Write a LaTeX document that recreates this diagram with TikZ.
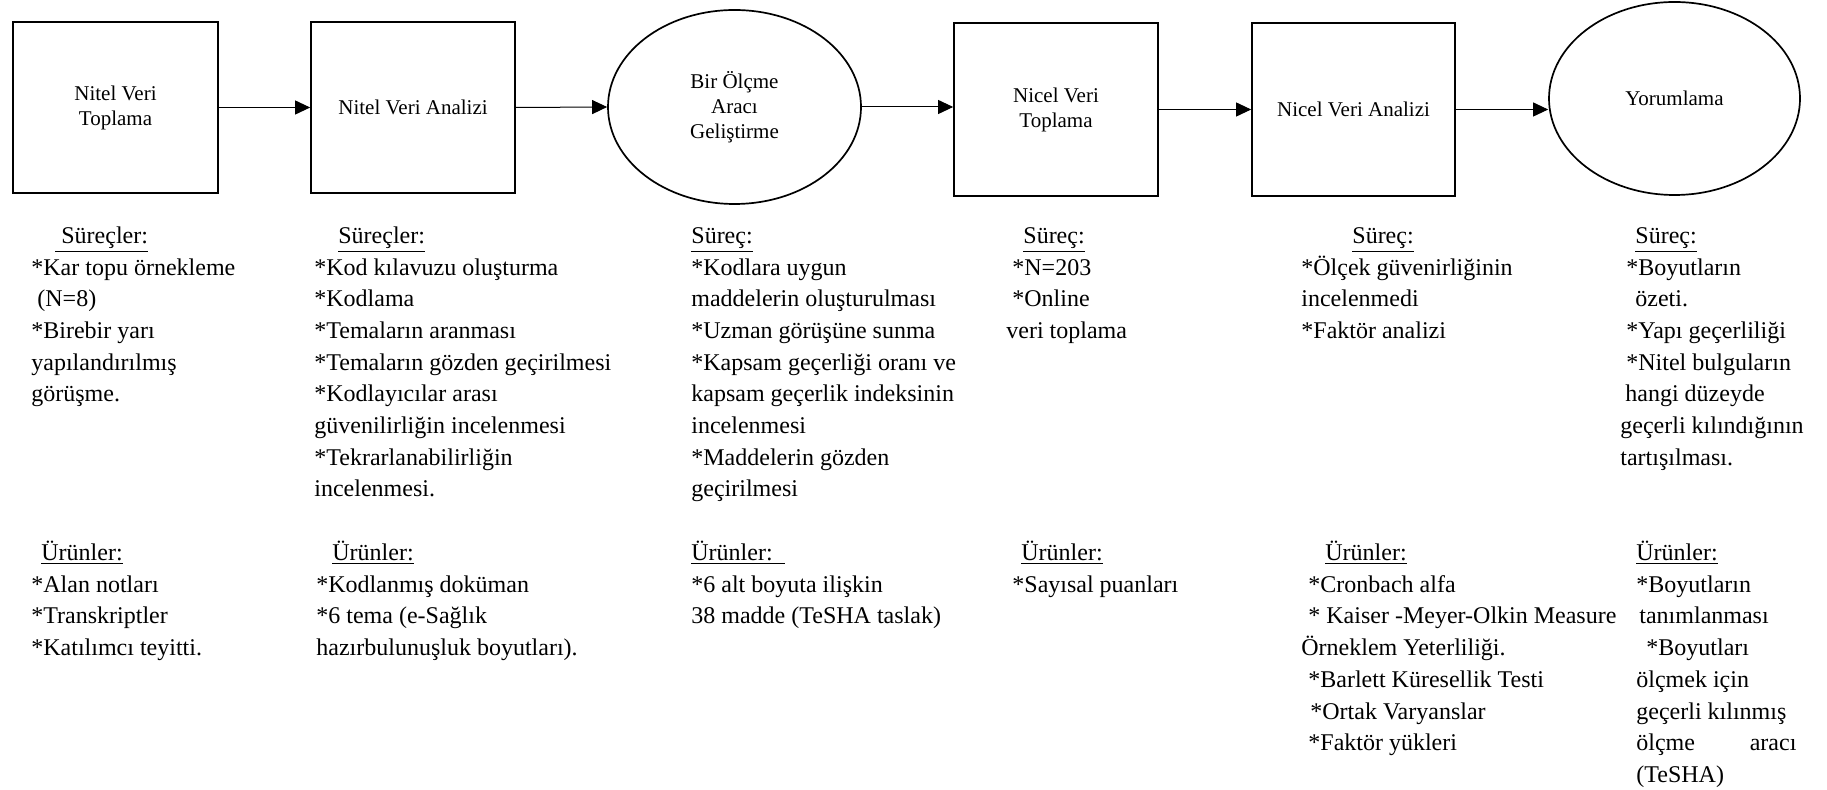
\documentclass[tikz,border=0pt]{standalone}
\usepackage{fontspec}
\setmainfont{Liberation Serif}
\usetikzlibrary{shapes.geometric,arrows.meta}
\newcommand{\Hs}[1]{\hspace*{#1}}
\tikzset{
  box/.style={draw, line width=0.85pt, rectangle, inner sep=0pt, align=center,
    font=\fontsize{10.5}{12.5}\selectfont},
  oval/.style={draw, line width=0.85pt, ellipse, inner sep=0pt, align=center,
    font=\fontsize{10.5}{12.5}\selectfont},
  arr/.style={-{Triangle[length=7.5pt,width=7pt]}, line width=0.5pt},
  txt/.style={anchor=north west, inner sep=0pt, align=left,
    font=\fontsize{12}{15.85}\selectfont},
}
\begin{document}
\begin{tikzpicture}[x=0.5pt,y=-0.5pt]
\useasboundingbox (0,0) rectangle (1827,790);
% main shapes
\node[box, minimum width=102.5pt, minimum height=85.5pt] (b1) at (115.5,107.5) {Nitel Veri\\Toplama};
\node[box, minimum width=102pt, minimum height=85.5pt] (b2) at (413,107.5) {Nitel Veri Analizi};
\node[oval, minimum width=126.5pt, minimum height=97pt] (e3) at (734.5,107) {Bir Ölçme\\Aracı\\Geliştirme};
\node[box, minimum width=102pt, minimum height=86.5pt] (b4) at (1056,109.5) {Nicel Veri\\Toplama};
\node[box, minimum width=101.5pt, minimum height=86.5pt] (b5) at (1353.5,109.5) {Nicel Veri Analizi};
\node[oval, minimum width=125.5pt, minimum height=96.5pt] (e6) at (1674.5,98.5) {Yorumlama};
% connectors
\draw[arr] (b1.east) -- (b2.west);
\draw[arr] (b2.east) -- (e3.west);
\draw[arr] (e3.east) -- (e3.east -| b4.west);
\draw[arr] (b4.east) -- (b5.west);
\draw[arr] (b5.east) -- (b5.east -| e6.west);
% column 1
\node[txt] (s1) at (31,220.8) {%
\strut\Hs{12pt}\underline{\ Süreçler:}\\
\strut *Kar topu örnekleme\\
\strut\Hs{3pt}(N=8)\\
\strut *Birebir yarı\\
\strut yapılandırılmış\\
\strut görüşme.};
\node[txt] (u1) at (31,538) {%
\strut\Hs{5pt}\underline{Ürünler:}\\
\strut *Alan notları\\
\strut *Transkriptler\\
\strut *Katılımcı teyitti.};
% column 2
\node[txt] (s2) at (314,220.8) {%
\strut\Hs{12pt}\underline{Süreçler:}\\
\strut *Kod kılavuzu oluşturma\\
\strut *Kodlama\\
\strut *Temaların aranması\\
\strut *Temaların gözden geçirilmesi\\
\strut *Kodlayıcılar arası\\
\strut güvenilirliğin incelenmesi\\
\strut *Tekrarlanabilirliğin\\
\strut incelenmesi.};
\node[txt] (u2) at (316,538) {%
\strut\Hs{8pt}\underline{Ürünler:}\\
\strut *Kodlanmış doküman\\
\strut *6 tema (e-Sağlık\\
\strut hazırbulunuşluk boyutları).};
% column 3
\node[txt] (s3) at (691,220.8) {%
\strut\underline{Süreç:}\\
\strut *Kodlara uygun\\
\strut maddelerin oluşturulması\\
\strut *Uzman görüşüne sunma\\
\strut *Kapsam geçerliği oranı ve\\
\strut kapsam geçerlik indeksinin\\
\strut incelenmesi\\
\strut *Maddelerin gözden\\
\strut geçirilmesi};
\node[txt] (u3) at (691,538) {%
\strut\underline{Ürünler:\ \ }\\
\strut *6 alt boyuta ilişkin\\
\strut 38 madde (TeSHA taslak)};
% column 4
\node[txt] (s4) at (1006,220.8) {%
\strut\Hs{8.5pt}\underline{Süreç:}\\
\strut\Hs{3pt}*N=203\\
\strut\Hs{3pt}*Online\\
\strut veri toplama};
\node[txt] (u4) at (1012,538) {%
\strut\Hs{4.5pt}\underline{Ürünler:}\\
\strut *Sayısal puanları};
% column 5
\node[txt] (s5) at (1301,220.8) {%
\strut\Hs{25.5pt}\underline{Süreç:}\\
\strut *Ölçek güvenirliğinin\\
\strut incelenmedi\\
\strut *Faktör analizi};
\node[txt] (u5) at (1301,538) {%
\strut\Hs{12pt}\underline{Ürünler:}\\
\strut\Hs{3.5pt}*Cronbach alfa\\
\strut\Hs{3.5pt}* Kaiser -Meyer-Olkin Measure\\
\strut Örneklem Yeterliliği.\\
\strut\Hs{3.5pt}*Barlett Küresellik Testi\\
\strut\Hs{4.5pt}*Ortak Varyanslar\\
\strut\Hs{3.5pt}*Faktör yükleri};
% column 6
\node[txt] (s6) at (1620,220.8) {%
\strut\Hs{7.5pt}\underline{Süreç:}\\
\strut\Hs{3pt}*Boyutların\\
\strut\Hs{7.5pt}özeti.\\
\strut\Hs{3pt}*Yapı geçerliliği\\
\strut\Hs{3pt}*Nitel bulguların\\
\strut\Hs{2.5pt}hangi düzeyde\\
\strut geçerli kılındığının\\
\strut tartışılması.};
\node[txt] (u6) at (1636,538) {%
\strut\underline{Ürünler:}\\
\strut *Boyutların\\
\strut\Hs{1.5pt}tanımlanması\\
\strut\Hs{5pt}*Boyutları\\
\strut ölçmek için\\
\strut geçerli kılınmış\\
\strut\hbox to 80pt{ölçme\hfill aracı}\\
\strut (TeSHA)};
\end{tikzpicture}
\end{document}
